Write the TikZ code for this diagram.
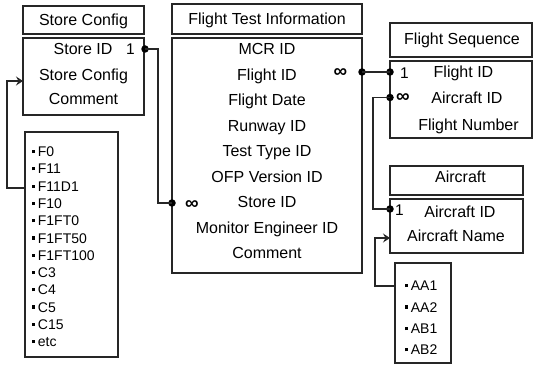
\documentclass[tikz,border=0pt]{standalone}
\usepackage{fontspec}
\setmainfont{Liberation Sans}
\usetikzlibrary{arrows.meta}
\newcommand\mybox[5]{\node[box,anchor=north west,inner sep=0pt,outer sep=0pt,minimum width=#4pt,minimum height=#5pt] (#1) at (#2,#3) {};}
\newcommand\sqb{\rule[3.5pt]{3.2pt}{3.2pt}\hspace{2.5pt}}
\begin{document}
\begin{tikzpicture}[x=1pt,y=-1pt,
  box/.style={draw=black!85,line width=1.1pt},
  fld/.style={font=\fontsize{16}{19}\selectfont,inner sep=0pt,anchor=base},
  lst/.style={font=\fontsize{14}{17}\selectfont,inner sep=0pt,anchor=base west},
  one/.style={font=\fontsize{15.5}{18}\selectfont,inner sep=0pt,anchor=base},
  inf/.style={font=\fontsize{19}{21}\selectfont\bfseries,inner sep=0pt,anchor=base},
  dotc/.style={circle,fill=black,inner sep=0pt,minimum size=7.5pt},
  conn/.style={line width=1.3pt,draw=black!85},
  arr/.style={line width=1.3pt,draw=black!85,-{Stealth[length=7pt,width=9pt,inset=2.5pt]}}]
\useasboundingbox[fill=white] (0,0) rectangle (533,366);

% boxes
\mybox{scT}{23}{6}{121}{28}
\mybox{scB}{23}{38}{121}{77}
\mybox{scL}{25}{132}{93}{225}
\mybox{ftT}{172}{4}{190}{30}
\mybox{ftB}{172}{38}{190}{235}
\mybox{fsT}{390}{23}{142}{34}
\mybox{fsB}{390}{61}{142}{77}
\mybox{acT}{390}{166}{133}{29}
\mybox{acB}{390}{199}{133}{54}
\mybox{acL}{395}{263}{56}{100}

% Store Config
\node[fld] (scTt) at (83.5,25.5) {Store Config};
\node[fld] (sc1) at (83,54.7) {Store ID};
\node[fld] (sc2) at (83.5,80.5) {Store Config};
\node[fld] (sc3) at (83.5,104.7) {Comment};
\node[one] (sc1n) at (130.5,54.5) {1};

% Store Config list
\foreach \t [count=\i from 0] in {F0,F11,F11D1,F10,F1FT0,F1FT50,F1FT100,C3,C4,C5,C15,etc}
  \node[lst] (scl\i) at (32,156.7+\i*17.27) {\sqb\t};

% Flight Test Information
\node[fld] (ftTt) at (267,25) {Flight Test Information};
\foreach \t [count=\i from 0] in {MCR ID,Flight ID,Flight Date,Runway ID,Test Type ID,OFP Version ID,Store ID,Monitor Engineer ID,Comment}
  \node[fld] (ft\i) at (267,55+\i*25.45) {\t};
\node[inf] (ftinf1) at (340.5,78) {∞};
\node[inf] (ftinf2) at (192,209.5) {∞};

% Flight Sequence
\node[fld] (fsTt) at (462,45) {Flight Sequence};
\node[fld] (fs1) at (463.5,77.3) {Flight ID};
\node[fld] (fs2) at (467,104) {Aircraft ID};
\node[fld] (fs3) at (468.5,130.6) {Flight Number};
\node[one] (fs1n) at (404.5,79) {1};
\node[inf] (fsinf) at (403,103) {∞};

% Aircraft
\node[fld] (acTt) at (460.5,182.3) {Aircraft};
\node[fld] (ac1) at (460,217.3) {Aircraft ID};
\node[fld] (ac2) at (456,241.5) {Aircraft Name};
\node[one] (ac1n) at (399.5,215.5) {1};

% Aircraft list
\foreach \t [count=\i from 0] in {AA1,AA2,AB1,AB2}
  \node[lst] (acl\i) at (405,290.7+\i*21.4) {\sqb\t};

% connectors
\node[dotc] (d1) at (145,49) {};
\node[dotc] (d2) at (172,203) {};
\coordinate (c1a) at (158,49);
\coordinate (c1b) at (158,203);
\draw[conn] (d1.center) -- (c1a) -- (c1b) -- (d2.center);

\node[dotc] (d3) at (362,72) {};
\node[dotc] (d4) at (390,72) {};
\draw[conn] (d3.center) -- (d4.center);

\node[dotc] (d5) at (390,97.5) {};
\node[dotc] (d6) at (390,209) {};
\coordinate (c3a) at (373,97.5);
\coordinate (c3b) at (373,209);
\draw[conn] (d5.center) -- (c3a) -- (c3b) -- (d6.center);

\coordinate (a1s) at (25,188);
\coordinate (a1a) at (7,188);
\coordinate (a1b) at (7,81);
\coordinate (a1e) at (23,81);
\draw[arr] (a1s) -- (a1a) -- (a1b) -- (a1e);

\coordinate (a2s) at (395,286);
\coordinate (a2a) at (375,286);
\coordinate (a2b) at (375,238);
\coordinate (a2e) at (390,238);
\draw[arr] (a2s) -- (a2a) -- (a2b) -- (a2e);
\end{tikzpicture}
\end{document}
